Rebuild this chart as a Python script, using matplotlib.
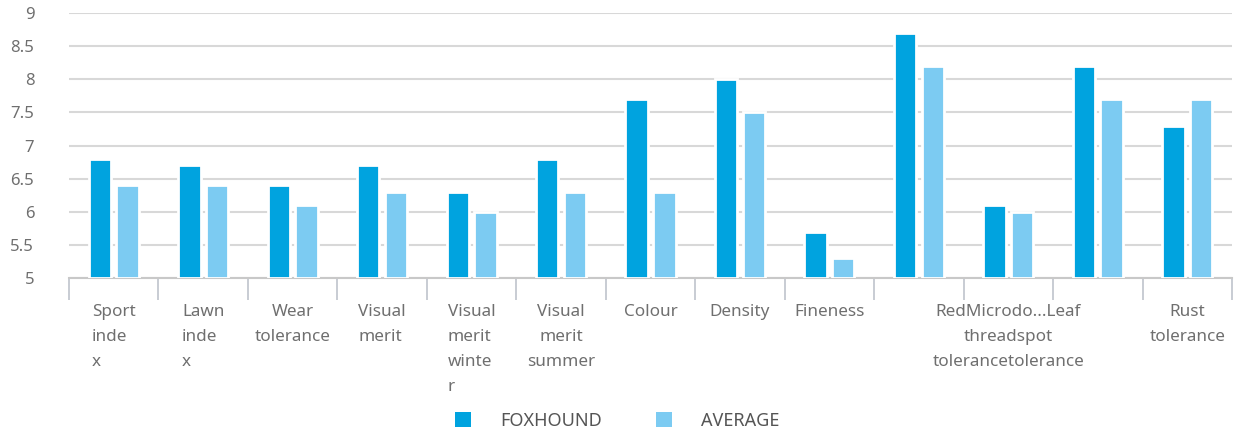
import matplotlib
matplotlib.use("Agg")
import matplotlib.pyplot as plt
import numpy as np
from matplotlib.patches import Patch

categories = ["Sport\ninde\nx", "Lawn\ninde\nx", "Wear\ntolerance", "Visual\nmerit",
              "Visual\nmerit\nwinte\nr", "Visual\nmerit\nsummer", "Colour", "Density",
              "Fineness", "", "RedMicrodo...Leaf\nthreadspot\ntolerancetolerance", "",
              "Rust\ntolerance"]
label_align = ["left", "left", "center", "left", "left", "center", "center", "center",
               "center", "center", "center", "center", "center"]
foxhound = [6.8, 6.7, 6.4, 6.7, 6.3, 6.8, 7.7, 8.0, 5.7, 8.7, 6.1, 8.2, 7.3]
average = [6.4, 6.4, 6.1, 6.3, 6.0, 6.3, 6.3, 7.5, 5.3, 8.2, 6.0, 7.7, 7.7]
series_names = ["FOXHOUND", "AVERAGE"]
yticks = [5, 5.5, 6, 6.5, 7, 7.5, 8, 8.5, 9]

c_fox = "#00a3df"
c_avg = "#7ccbf2"
txt = "#6f6f6f"
font = ["Noto Sans", "DejaVu Sans"]
plt.rcParams["font.family"] = font

fig = plt.figure(figsize=(12.34, 4.32), dpi=100)
ax = fig.add_axes([69/1234, 1-278/432, (1232-69)/1234, (278-13)/432])

x = np.arange(len(categories))
w = 0.25
off = 0.155
ax.bar(x - off, [v - 5 for v in foxhound], w, bottom=5, color=c_fox,
       edgecolor="white", linewidth=2, zorder=3)
ax.bar(x + off, [v - 5 for v in average], w, bottom=5, color=c_avg,
       edgecolor="white", linewidth=2, zorder=3)

ax.set_ylim(5, 9)
ax.set_xlim(-0.5, len(categories) - 0.5)
ax.set_yticks(yticks)
ax.set_yticklabels([f"{t:g}" for t in yticks], fontsize=12, color=txt)
ax.yaxis.grid(True, color="#d8d8d8", linewidth=1.5, zorder=1)
ax.set_axisbelow(True)
ax.tick_params(axis="y", length=0, pad=25)

ax.set_xticks(x)
ax.set_xticklabels(categories, fontsize=12.3, color=txt, linespacing=1.75, va="top")
for lbl, al in zip(ax.get_xticklabels(), label_align):
    lbl.set_multialignment(al)
ax.tick_params(axis="x", which="major", length=0, pad=19)
ax.set_xticks(np.arange(len(categories) + 1) - 0.5, minor=True)
ax.tick_params(axis="x", which="minor", length=16, width=1.3, color="#c4c8d0")

for s in ["top", "right", "left"]:
    ax.spines[s].set_visible(False)
ax.spines["bottom"].set_color("#c8c8c8")
ax.spines["bottom"].set_linewidth(1.5)
ax.spines["bottom"].set_zorder(2)

handles = [Patch(facecolor=c_fox, edgecolor="none"), Patch(facecolor=c_avg, edgecolor="none")]
fig.legend(handles, series_names, loc="center", bbox_to_anchor=(617/1234, 1-421/432),
           ncol=2, frameon=False, fontsize=13, labelcolor="#555555",
           handlelength=0.9, handleheight=0.9, handletextpad=1.6, columnspacing=3.0)

fig.savefig("out.png", dpi=100)
